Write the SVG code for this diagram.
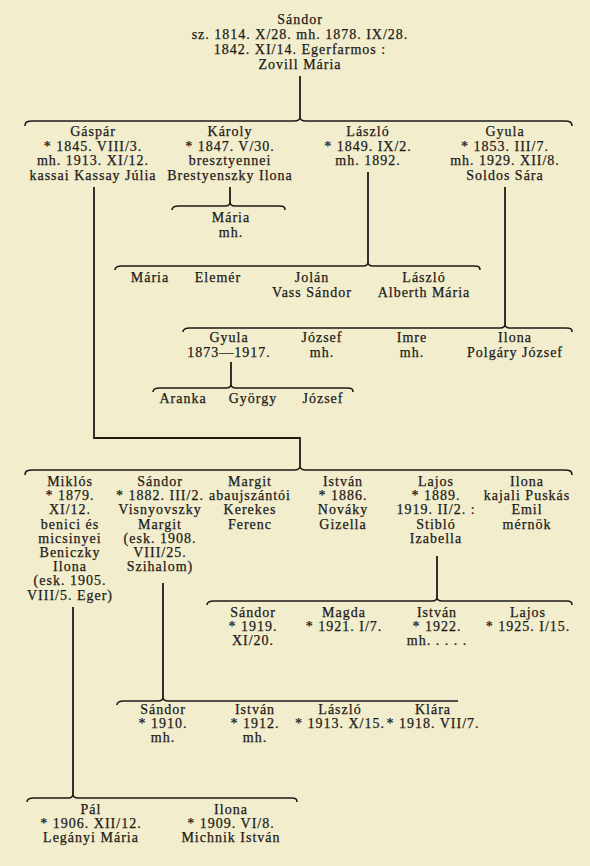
<svg xmlns="http://www.w3.org/2000/svg" width="590" height="866" viewBox="0 0 590 866">
<style>
text{font-family:"Liberation Serif","Times New Roman",serif;font-size:14px;fill:#1c1b18;stroke:#1c1b18;stroke-width:0.25;text-anchor:middle;letter-spacing:1px}
.c{fill:none;stroke:#1c1b18;stroke-width:1.8}
.b{fill:none;stroke:#1c1b18;stroke-width:1.6}
</style>
<rect width="590" height="866" fill="#f2edcd"/>
<g id="connectors">
<path class="c" d="M300,76V117"/>
<path class="b" d="M25,126C25,122 27,121 33,121L294,121C298,121 300,120 300,117C300,120 302,121 306,121L564,121C570,121 572,122 572,126"/>
<path class="c" d="M94,187V438H300V466"/>
<path class="b" d="M25,475C25,471 27,470 33,470L294,470C298,470 300,469 300,466C300,469 302,470 306,470L564,470C570,470 572,471 572,475"/>
<path class="c" d="M230,187V202"/>
<path class="b" d="M172,210C172,207 174,206 179,206L225,206C228,206 230,205 230,202C230,205 232,206 235,206L279,206C284,206 285,207 285,210"/>
<path class="c" d="M368,172V262"/>
<path class="b" d="M115,270C115,267 117,266 122,266L363,266C366,266 368,265 368,262C368,265 370,266 373,266L474,266C479,266 480,267 480,270"/>
<path class="c" d="M505,187V324"/>
<path class="b" d="M183,332C183,329 185,328 190,328L500,328C503,328 505,327 505,324C505,327 507,328 510,328L566,328C571,328 572,329 572,332"/>
<path class="c" d="M231,362V384"/>
<path class="b" d="M153,392C153,389 155,388 160,388L226,388C229,388 231,387 231,384C231,387 233,388 236,388L347,388C352,388 353,389 353,392"/>
<path class="c" d="M437,556V597"/>
<path class="b" d="M207,605C207,602 209,601 214,601L432,601C435,601 437,600 437,597C437,600 439,601 442,601L566,601C571,601 572,602 572,605"/>
<path class="c" d="M163,583V697"/>
<path class="b" d="M117,705C117,702 119,701 124,701L158,701C161,701 163,700 163,697C163,700 165,701 168,701L458,701"/>
<path class="c" d="M73,607V794"/>
<path class="b" d="M27,802C27,799 29,798 34,798L68,798C71,798 73,797 73,794C73,797 75,798 78,798L291,798C296,798 297,799 297,802"/>
</g>
<g id="n-sandor-1814"><text x="300" y="24"><tspan x="300">Sándor</tspan><tspan x="300" dy="15">sz. 1814. X/28. mh. 1878. IX/28.</tspan><tspan x="300" dy="15">1842. XI/14. Egerfarmos :</tspan><tspan x="300" dy="15">Zovill Mária</tspan></text></g>
<g id="n-gaspar"><text x="93" y="136"><tspan x="93">Gáspár</tspan><tspan x="93" dy="14.5">* 1845. VIII/3.</tspan><tspan x="93" dy="14.5">mh. 1913. XI/12.</tspan><tspan x="93" dy="14.5">kassai Kassay Júlia</tspan></text></g>
<g id="n-karoly"><text x="230" y="136"><tspan x="230">Károly</tspan><tspan x="230" dy="14.5">* 1847. V/30.</tspan><tspan x="230" dy="14.5">bresztyennei</tspan><tspan x="230" dy="14.5">Brestyenszky Ilona</tspan></text></g>
<g id="n-laszlo-1849"><text x="368" y="136"><tspan x="368">László</tspan><tspan x="368" dy="14.5">* 1849. IX/2.</tspan><tspan x="368" dy="14.5">mh. 1892.</tspan></text></g>
<g id="n-gyula-1853"><text x="505" y="136"><tspan x="505">Gyula</tspan><tspan x="505" dy="14.5">* 1853. III/7.</tspan><tspan x="505" dy="14.5">mh. 1929. XII/8.</tspan><tspan x="505" dy="14.5">Soldos Sára</tspan></text></g>
<g id="n-maria-karoly"><text x="231" y="222"><tspan x="231">Mária</tspan><tspan x="231" dy="15">mh.</tspan></text></g>
<g id="n-maria-laszlo"><text x="150" y="282">Mária</text></g>
<g id="n-elemer"><text x="218" y="282">Elemér</text></g>
<g id="n-jolan"><text x="312" y="282"><tspan x="312">Jolán</tspan><tspan x="312" dy="15">Vass Sándor</tspan></text></g>
<g id="n-laszlo-jr"><text x="424" y="282"><tspan x="424">László</tspan><tspan x="424" dy="15">Alberth Mária</tspan></text></g>
<g id="n-gyula-1873"><text x="229" y="342"><tspan x="229">Gyula</tspan><tspan x="229" dy="15">1873—1917.</tspan></text></g>
<g id="n-jozsef-gyula"><text x="322" y="342"><tspan x="322">József</tspan><tspan x="322" dy="15">mh.</tspan></text></g>
<g id="n-imre"><text x="412" y="342"><tspan x="412">Imre</tspan><tspan x="412" dy="15">mh.</tspan></text></g>
<g id="n-ilona-gyula"><text x="515" y="342"><tspan x="515">Ilona</tspan><tspan x="515" dy="15">Polgáry József</tspan></text></g>
<g id="n-aranka"><text x="183" y="403">Aranka</text></g>
<g id="n-gyorgy"><text x="253" y="403">György</text></g>
<g id="n-jozsef-1873"><text x="323" y="403">József</text></g>
<g id="n-miklos"><text x="70" y="486"><tspan x="70">Miklós</tspan><tspan x="70" dy="14.2">* 1879.</tspan><tspan x="70" dy="14.2">XI/12.</tspan><tspan x="70" dy="14.2">benici és</tspan><tspan x="70" dy="14.2">micsinyei</tspan><tspan x="70" dy="14.2">Beniczky</tspan><tspan x="70" dy="14.2">Ilona</tspan><tspan x="70" dy="14.2">(esk. 1905.</tspan><tspan x="70" dy="14.2">VIII/5. Eger)</tspan></text></g>
<g id="n-sandor-1882"><text x="160" y="486"><tspan x="160">Sándor</tspan><tspan x="160" dy="14.2">* 1882. III/2.</tspan><tspan x="160" dy="14.2">Visnyovszky</tspan><tspan x="160" dy="14.2">Margit</tspan><tspan x="160" dy="14.2">(esk. 1908.</tspan><tspan x="160" dy="14.2">VIII/25.</tspan><tspan x="160" dy="14.2">Szihalom)</tspan></text></g>
<g id="n-margit"><text x="250" y="486"><tspan x="250">Margit</tspan><tspan x="250" dy="14.2">abaujszántói</tspan><tspan x="250" dy="14.2">Kerekes</tspan><tspan x="250" dy="14.2">Ferenc</tspan></text></g>
<g id="n-istvan-1886"><text x="343" y="486"><tspan x="343">István</tspan><tspan x="343" dy="14.2">* 1886.</tspan><tspan x="343" dy="14.2">Nováky</tspan><tspan x="343" dy="14.2">Gizella</tspan></text></g>
<g id="n-lajos-1889"><text x="436" y="486"><tspan x="436">Lajos</tspan><tspan x="436" dy="14.2">* 1889.</tspan><tspan x="436" dy="14.2">1919. II/2. :</tspan><tspan x="436" dy="14.2">Stibló</tspan><tspan x="436" dy="14.2">Izabella</tspan></text></g>
<g id="n-ilona-gaspar"><text x="527" y="486"><tspan x="527">Ilona</tspan><tspan x="527" dy="14.2">kajali Puskás</tspan><tspan x="527" dy="14.2">Emil</tspan><tspan x="527" dy="14.2">mérnök</tspan></text></g>
<g id="n-sandor-1919"><text x="253" y="617"><tspan x="253">Sándor</tspan><tspan x="253" dy="14.2">* 1919.</tspan><tspan x="253" dy="14.2">XI/20.</tspan></text></g>
<g id="n-magda"><text x="344" y="617"><tspan x="344">Magda</tspan><tspan x="344" dy="14.2">* 1921. I/7.</tspan></text></g>
<g id="n-istvan-1922"><text x="437" y="617"><tspan x="437">István</tspan><tspan x="437" dy="14.2">* 1922.</tspan><tspan x="437" dy="14.2">mh. . . . .</tspan></text></g>
<g id="n-lajos-1925"><text x="528" y="617"><tspan x="528">Lajos</tspan><tspan x="528" dy="14.2">* 1925. I/15.</tspan></text></g>
<g id="n-sandor-1910"><text x="163" y="714"><tspan x="163">Sándor</tspan><tspan x="163" dy="14.2">* 1910.</tspan><tspan x="163" dy="14.2">mh.</tspan></text></g>
<g id="n-istvan-1912"><text x="255" y="714"><tspan x="255">István</tspan><tspan x="255" dy="14.2">* 1912.</tspan><tspan x="255" dy="14.2">mh.</tspan></text></g>
<g id="n-laszlo-1913"><text x="340" y="714"><tspan x="340">László</tspan><tspan x="340" dy="14.2">* 1913. X/15.</tspan></text></g>
<g id="n-klara"><text x="433" y="714"><tspan x="433">Klára</tspan><tspan x="433" dy="14.2">* 1918. VII/7.</tspan></text></g>
<g id="n-pal"><text x="91" y="814"><tspan x="91">Pál</tspan><tspan x="91" dy="14.2">* 1906. XII/12.</tspan><tspan x="91" dy="14.2">Legányi Mária</tspan></text></g>
<g id="n-ilona-1909"><text x="231" y="814"><tspan x="231">Ilona</tspan><tspan x="231" dy="14.2">* 1909. VI/8.</tspan><tspan x="231" dy="14.2">Michnik István</tspan></text></g>
</svg>
